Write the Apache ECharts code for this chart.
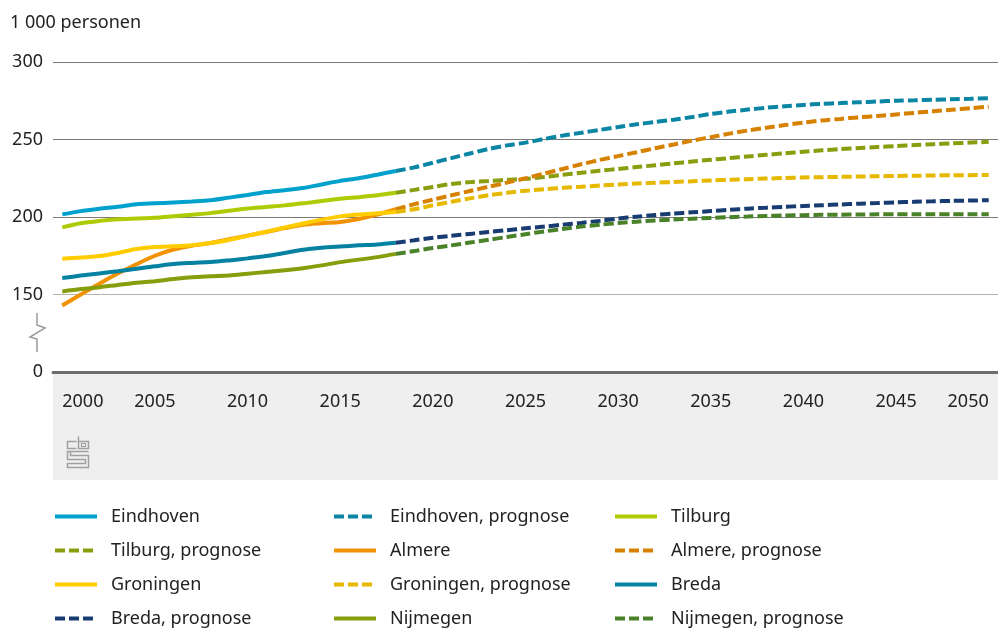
<!DOCTYPE html>
<html>
<head>
<meta charset="utf-8">
<script src="https://cdn.jsdelivr.net/npm/echarts@6/dist/echarts.min.js"></script>
<style>
  html, body { margin: 0; padding: 0; background: #fff; }
  #chart { width: 998px; height: 628px; }
</style>
</head>
<body>
<div id="chart"></div>
<script>
  var years = ['2000', '2001', '2002', '2003', '2004', '2005', '2006', '2007', '2008', '2009',
    '2010', '2011', '2012', '2013', '2014', '2015', '2016', '2017', '2018', '2019',
    '2020', '2021', '2022', '2023', '2024', '2025', '2026', '2027', '2028', '2029',
    '2030', '2031', '2032', '2033', '2034', '2035', '2036', '2037', '2038', '2039',
    '2040', '2041', '2042', '2043', '2044', '2045', '2046', '2047', '2048', '2049', '2050'];

  // waarnemingen 2000-2018 (x 1 000)
  var eindhoven = [201.7, 203.8, 205.3, 206.6, 208.2, 208.8, 209.4, 210.0, 210.8, 212.5, 214.2, 216.1, 217.3, 218.7, 221.0, 223.3, 225.0, 227.3, 229.7];
  var tilburg = [193.3, 196.0, 197.5, 198.5, 199.0, 199.5, 200.5, 201.5, 202.5, 204.0, 205.5, 206.5, 207.5, 208.8, 210.3, 211.8, 212.8, 214.0, 215.6];
  var almere = [142.9, 150.0, 157.0, 163.5, 169.5, 175.0, 179.0, 181.5, 183.2, 185.6, 188.0, 190.3, 192.8, 195.0, 196.0, 196.8, 198.7, 201.5, 205.0];
  var groningen = [173.1, 173.8, 174.8, 176.8, 179.3, 180.6, 181.2, 181.8, 183.2, 185.2, 187.8, 190.5, 193.2, 195.8, 198.3, 200.4, 201.6, 202.4, 203.2];
  var breda = [160.6, 162.2, 163.6, 165.0, 166.6, 168.2, 169.7, 170.4, 170.9, 172.0, 173.3, 174.8, 176.8, 178.9, 180.2, 181.0, 181.7, 182.3, 183.4];
  var nijmegen = [152.0, 153.5, 154.7, 156.2, 157.6, 158.6, 160.0, 161.2, 161.8, 162.3, 163.4, 164.5, 165.6, 167.0, 168.8, 170.9, 172.5, 174.1, 176.2];

  // prognose 2018-2050
  var eindhovenPrognose = [229.7, 232.0, 235.0, 238.0, 241.0, 243.9, 246.2, 248.0, 250.3, 252.5, 254.3, 256.2, 258.0, 259.8, 261.3, 262.8, 264.5, 266.5, 268.0, 269.3, 270.5, 271.5, 272.3, 273.0, 273.5, 274.0, 274.5, 275.0, 275.3, 275.6, 276.0, 276.3, 276.7];
  var tilburgPrognose = [215.6, 217.5, 219.4, 221.3, 222.5, 223.2, 224.0, 224.6, 225.8, 227.2, 228.5, 229.8, 231.0, 232.2, 233.4, 234.6, 235.8, 236.9, 238.0, 239.1, 240.1, 241.1, 242.1, 243.0, 243.8, 244.5, 245.2, 245.8, 246.4, 247.0, 247.5, 248.0, 248.5];
  var almerePrognose = [205.0, 208.3, 211.2, 214.0, 216.8, 219.5, 222.2, 225.0, 228.0, 231.0, 234.0, 236.8, 239.3, 241.8, 244.4, 246.8, 249.3, 251.5, 253.8, 255.8, 257.6, 259.3, 260.9, 262.3, 263.3, 264.3, 265.2, 266.2, 267.2, 268.2, 269.2, 270.2, 271.2];
  var groningenPrognose = [203.2, 205.0, 207.5, 209.8, 212.0, 214.0, 215.6, 216.9, 217.9, 218.8, 219.5, 220.3, 221.0, 221.6, 222.1, 222.6, 223.1, 223.6, 224.0, 224.4, 224.8, 225.2, 225.5, 225.7, 225.9, 226.1, 226.3, 226.5, 226.6, 226.8, 226.9, 227.0, 227.1];
  var bredaPrognose = [183.4, 185.0, 186.6, 187.9, 189.1, 190.3, 191.5, 192.7, 193.8, 195.0, 196.2, 197.5, 199.0, 200.2, 201.3, 202.2, 203.0, 203.8, 204.6, 205.4, 206.0, 206.6, 207.1, 207.6, 208.1, 208.6, 209.0, 209.4, 209.8, 210.1, 210.4, 210.6, 210.8];
  var nijmegenPrognose = [176.2, 178.0, 180.0, 181.7, 183.5, 185.3, 187.1, 188.9, 190.7, 192.3, 193.8, 195.0, 196.1, 197.0, 197.8, 198.4, 198.9, 199.4, 199.9, 200.3, 200.7, 201.0, 201.2, 201.4, 201.5, 201.6, 201.7, 201.7, 201.7, 201.8, 201.8, 201.8, 201.8];

  var yTicks = [100, 150, 200, 250, 300];

  var font = '"Noto Sans", sans-serif';
  var textColor = '#222';

  // historische reeks loopt tot en met 2018, prognose begint in 2018
  function observed(values) {
    return years.map(function (year, index) { return index < values.length ? values[index] : null; });
  }

  function forecast(values) {
    var offset = years.length - values.length;
    return years.map(function (year, index) { return index >= offset ? values[index - offset] : null; });
  }

  function lineSeries(name, data, color, dashed) {
    return {
      name: name,
      type: 'line',
      data: data,
      symbol: 'none',
      smooth: 0.3,
      connectNulls: false,
      lineStyle: { width: 4, color: color, type: dashed ? [10, 4] : 'solid', cap: 'butt' },
      itemStyle: { color: color },
      emphasis: { disabled: true }
    };
  }

  var series = [
    lineSeries('Eindhoven', observed(eindhoven), '#00a1cd', false),
    lineSeries('Eindhoven, prognose', forecast(eindhovenPrognose), '#0a85a3', true),
    lineSeries('Tilburg', observed(tilburg), '#afcb05', false),
    lineSeries('Tilburg, prognose', forecast(tilburgPrognose), '#8a9d0e', true),
    lineSeries('Almere', observed(almere), '#f39200', false),
    lineSeries('Almere, prognose', forecast(almerePrognose), '#d68200', true),
    lineSeries('Groningen', observed(groningen), '#ffcc00', false),
    lineSeries('Groningen, prognose', forecast(groningenPrognose), '#e6b800', true),
    lineSeries('Breda', observed(breda), '#0581a2', false),
    lineSeries('Breda, prognose', forecast(bredaPrognose), '#183c72', true),
    lineSeries('Nijmegen', observed(nijmegen), '#879e0c', false),
    lineSeries('Nijmegen, prognose', forecast(nijmegenPrognose), '#4a8229', true)
  ];

  function legendColumn(left, names) {
    return {
      orient: 'vertical',
      left: left,
      top: 507,
      height: 121,
      padding: 0,
      itemWidth: 42,
      itemHeight: 14,
      itemGap: 15,
      selectedMode: false,
      itemStyle: { opacity: 0 },
      lineStyle: { width: 4 },
      data: names,
      textStyle: { fontFamily: font, fontSize: 18, color: textColor, lineHeight: 19, padding: [0, 0, 0, 9] }
    };
  }

  var chart = echarts.init(document.getElementById('chart'), null, { renderer: 'canvas' });
  chart.setOption({
    backgroundColor: '#fff',
    animation: false,
    textStyle: { fontFamily: font },
    grid: { left: 53, right: 0, top: 62, bottom: 256, containLabel: false },
    legend: [
      legendColumn(53, ['Eindhoven', 'Tilburg, prognose', 'Groningen', 'Breda, prognose']),
      legendColumn(332, ['Eindhoven, prognose', 'Almere', 'Groningen, prognose', 'Nijmegen']),
      legendColumn(613, ['Tilburg', 'Almere, prognose', 'Breda', 'Nijmegen, prognose'])
    ],
    xAxis: {
      type: 'category',
      data: years,
      boundaryGap: true,
      axisLine: { lineStyle: { color: '#6e6e6e', width: 3 } },
      axisTick: { alignWithLabel: true, interval: 4, length: 14, lineStyle: { color: '#c4c4c4', width: 2 } },
      axisLabel: {
        interval: 4, margin: 21, fontSize: 18, color: textColor, fontFamily: font,
        alignMinLabel: 'left', alignMaxLabel: 'right'
      },
      splitLine: { show: false }
    },
    yAxis: {
      type: 'value',
      min: yTicks[0],
      max: yTicks[yTicks.length - 1],
      interval: 50,
      axisLine: { show: false },
      axisTick: { show: false },
      axisLabel: {
        margin: 10, fontSize: 18, color: textColor, fontFamily: font,
        formatter: function (value) { return value === yTicks[0] ? '0' : String(value); }
      },
      splitLine: { lineStyle: { color: ['#6e6e6e', '#b4b4b4', '#7a7a7a', '#7a7a7a', '#7a7a7a'], width: 1 } }
    },
    graphic: [
      {
        type: 'rect', z: -1, left: 53, top: 373,
        shape: { width: 945, height: 107 },
        style: { fill: '#efefef' }
      },
      {
        type: 'text', left: 10, top: 14,
        style: { text: '1 000 personen', font: '18px ' + font, fill: textColor }
      },
      {
        // asbreuk tussen 0 en 150
        type: 'polyline', z: 10,
        shape: { points: [[37, 313], [37, 325], [45, 328], [30, 337], [37, 339], [37, 352]] },
        style: { stroke: '#9a9a9a', lineWidth: 1.5, fill: null }
      },
      {
        // cbs-logo
        type: 'group', left: 65, top: 434,
        children: [
          { type: 'polyline', shape: { points: [[10, 5], [1, 5], [1, 12], [10, 12]] }, style: { stroke: '#a0a0a0', lineWidth: 1.5, fill: null } },
          { type: 'polyline', shape: { points: [[12, 0], [12, 12], [22, 12], [22, 5], [12, 5]] }, style: { stroke: '#a0a0a0', lineWidth: 1.5, fill: null } },
          { type: 'rect', shape: { x: 15, y: 7, width: 4, height: 3 }, style: { stroke: '#a0a0a0', lineWidth: 1.2, fill: null } },
          { type: 'polyline', shape: { points: [[22, 15], [1, 15], [1, 23], [19, 23], [19, 27], [1, 27], [1, 31], [22, 31], [22, 19], [4, 19], [4, 15]] }, style: { stroke: '#a0a0a0', lineWidth: 1.5, fill: null } }
        ]
      }
    ],
    series: series
  });
</script>
</body>
</html>
